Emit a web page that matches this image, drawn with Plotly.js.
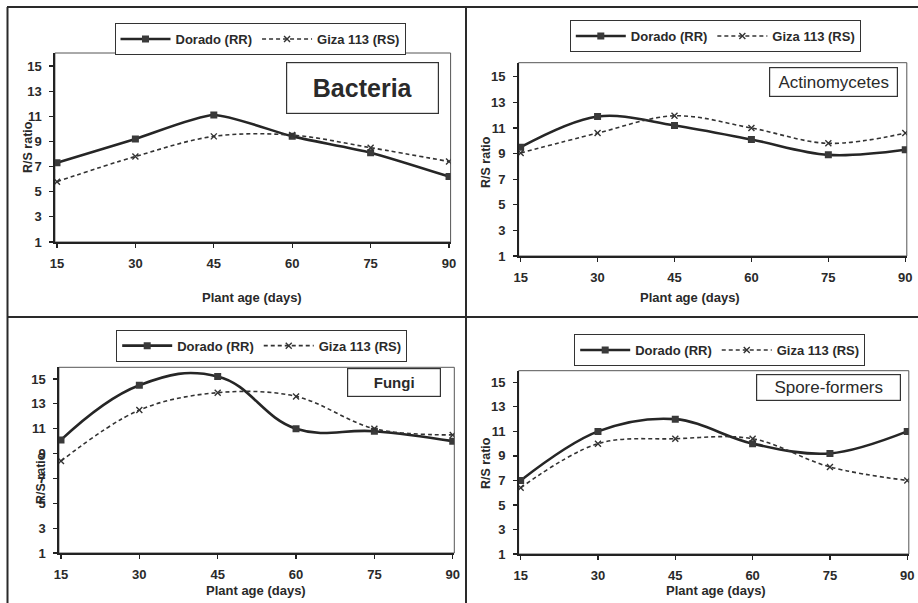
<!DOCTYPE html>
<html>
<head>
<meta charset="utf-8">
<script src="https://cdn.plot.ly/plotly-3.0.1.min.js"></script>
<style>html,body{margin:0;padding:0;background:#fff;}#chart{width:918px;height:603px;}</style>
</head>
<body>
<div id="chart"></div>
<script>
// ---- data ----
const days = [15, 30, 45, 60, 75, 90];
const xTicks = [15, 30, 45, 60, 75, 90];
const yTicks = [1, 3, 5, 7, 9, 11, 13, 15];
const seriesNames = ["Dorado (RR)", "Giza 113 (RS)"];
const panelTitles = ["Bacteria", "Actinomycetes", "Fungi", "Spore-formers"];
const bacteriaDorado = [7.3, 9.2, 11.1, 9.4, 8.1, 6.2];
const bacteriaGiza   = [5.8, 7.8, 9.4, 9.5, 8.5, 7.4];
const actinoDorado   = [9.5, 11.9, 11.2, 10.1, 8.9, 9.3];
const actinoGiza     = [9.05, 10.6, 11.95, 11.0, 9.8, 10.6];
const fungiDorado    = [10.1, 14.5, 15.2, 11.0, 10.8, 10.0];
const fungiGiza      = [8.4, 12.5, 13.9, 13.6, 11.0, 10.5];
const sporeDorado    = [7.0, 11.0, 12.0, 10.0, 9.2, 11.0];
const sporeGiza      = [6.4, 10.0, 10.4, 10.4, 8.1, 7.0];

// ---- layout helpers (pixel geometry) ----
const W = 918, H = 603;
const px = v => v / W;
const py = v => 1 - v / H;
const FONT = "Liberation Sans, Arial, sans-serif";

const panels = [
  {d: bacteriaDorado, g: bacteriaGiza, xd: [54.9, 450.6], yd: [53, 242], ytop: 16.03,
   leg: {x: 260, y: 23}, lab: {x: 362.5, y: 88, w: 153, h: 52, size: 25, bold: true},
   ytitle: {x: 28, y: 147}, xtitle: {x: 252, y: 297}, smooth: [0.6, 1.0]},
  {d: actinoDorado, g: actinoGiza, xd: [518.6, 906.8], yd: [62.7, 256], ytop: 16.1,
   leg: {x: 715.3, y: 20}, lab: {x: 833.3, y: 81.7, w: 129, h: 30, size: 17, bold: false},
   ytitle: {x: 486, y: 162}, xtitle: {x: 690, y: 297}, smooth: [1.0, 1.0]},
  {d: fungiDorado, g: fungiGiza, xd: [58.9, 454.3], yd: [367.3, 553], ytop: 15.94,
   leg: {x: 261.7, y: 329.7}, lab: {x: 394, y: 382.5, w: 94, h: 29, size: 15, bold: true},
   ytitle: {x: 41, y: 478}, xtitle: {x: 255.5, y: 590.7}, smooth: [1.2, 1.0]},
  {d: sporeDorado, g: sporeGiza, xd: [518.6, 908.8], yd: [370.7, 554], ytop: 15.95,
   leg: {x: 719.7, y: 334}, lab: {x: 828.8, y: 387.7, w: 145, h: 27, size: 17, bold: false},
   ytitle: {x: 486, y: 463}, xtitle: {x: 715.5, y: 590.7}, smooth: [1.0, 1.0]}
];

const traces = [];
const layout = {
  width: W, height: H,
  margin: {l: 0, r: 0, t: 0, b: 0, pad: 0},
  paper_bgcolor: "#ffffff", plot_bgcolor: "#ffffff",
  font: {family: FONT, color: "#222", size: 12},
  showlegend: true,
  annotations: [], shapes: []
};

panels.forEach((p, i) => {
  const n = i + 1;
  const xa = n === 1 ? "x" : "x" + n;
  const ya = n === 1 ? "y" : "y" + n;
  const lg = n === 1 ? "legend" : "legend" + n;
  traces.push({
    x: days, y: p.d, xaxis: xa, yaxis: ya, legend: lg, name: seriesNames[0],
    type: "scatter", mode: "lines+markers",
    line: {color: "#262626", width: 2.6, shape: "spline", smoothing: p.smooth[0]},
    marker: {symbol: "square", size: 7, color: "#3a3a3a"},
    hoverinfo: "skip"
  });
  traces.push({
    x: days, y: p.g, xaxis: xa, yaxis: ya, legend: lg, name: seriesNames[1],
    type: "scatter", mode: "lines+markers",
    line: {color: "#333333", width: 1.6, dash: "4px,3px", shape: "spline", smoothing: p.smooth[1]},
    marker: {symbol: "x-thin", size: 6, color: "#333", line: {width: 1.4, color: "#333"}},
    hoverinfo: "skip"
  });

  const axBase = {
    showgrid: false, zeroline: false, showline: true, linecolor: "#222", linewidth: 1.6,
    ticks: "outside", ticklen: 4, tickwidth: 1.2, tickcolor: "#222",
    tickfont: {family: FONT, size: 13, color: "#2a2a2a", weight: "bold"},
    automargin: false, fixedrange: true
  };
  layout["xaxis" + (n === 1 ? "" : n)] = Object.assign({}, axBase, {
    domain: [px(p.xd[0]), px(p.xd[1])], anchor: ya, ticklabelstandoff: 5,
    range: [14.6, 90.3], tickmode: "array", tickvals: xTicks, ticktext: xTicks.map(String)
  });
  layout["yaxis" + (n === 1 ? "" : n)] = Object.assign({}, axBase, {
    domain: [py(p.yd[1]), py(p.yd[0])], anchor: xa, ticklabelstandoff: 5,
    range: [1, p.ytop], tickmode: "array", tickvals: yTicks, ticktext: yTicks.map(String)
  });
  // plot frame (top/right)
  layout.shapes.push({type: "rect", xref: xa + " domain", yref: ya + " domain",
    x0: 0, x1: 1, y0: 0, y1: 1, line: {color: "#555", width: 1}, layer: "below"});

  layout[lg] = {
    orientation: "h", x: px(p.leg.x), y: py(p.leg.y), xanchor: "center", yanchor: "top",
    bordercolor: "#333", borderwidth: 1, bgcolor: "#fff",
    font: {family: FONT, size: 13, color: "#2a2a2a", weight: "bold"},
    itemwidth: 50, itemclick: false, itemdoubleclick: false
  };

  layout.annotations.push({
    xref: "paper", yref: "paper", x: px(p.lab.x), y: py(p.lab.y), xanchor: "center", yanchor: "middle",
    text: panelTitles[i], showarrow: false, width: p.lab.w - 4, height: p.lab.h - 4,
    bordercolor: "#333", borderwidth: 1.2, bgcolor: "#fff", borderpad: 1,
    font: {family: FONT, size: p.lab.size, color: "#2a2a2a", weight: p.lab.bold ? "bold" : "normal"}
  });
  layout.annotations.push({
    xref: "paper", yref: "paper", x: px(p.ytitle.x), y: py(p.ytitle.y), xanchor: "center", yanchor: "middle",
    text: "R/S ratio", textangle: -90, showarrow: false,
    font: {family: FONT, size: 12.5, color: "#2a2a2a", weight: "bold"}
  });
  layout.annotations.push({
    xref: "paper", yref: "paper", x: px(p.xtitle.x), y: py(p.xtitle.y), xanchor: "center", yanchor: "middle",
    text: "Plant age (days)", showarrow: false,
    font: {family: FONT, size: 13, color: "#2a2a2a", weight: "bold"}
  });
});

// panel frame lines
const frameLines = [
  [7.5, 7, 7.5, 603], [7, 7, 918, 7], [466, 7, 466, 603], [7, 317, 918, 317]
];
frameLines.forEach(f => layout.shapes.push({
  type: "line", xref: "paper", yref: "paper",
  x0: px(f[0]), y0: py(f[1]), x1: px(f[2]), y1: py(f[3]),
  line: {color: "#2a2a2a", width: 2}
}));

Plotly.newPlot("chart", traces, layout, {displayModeBar: false, staticPlot: true});
</script>
</body>
</html>
